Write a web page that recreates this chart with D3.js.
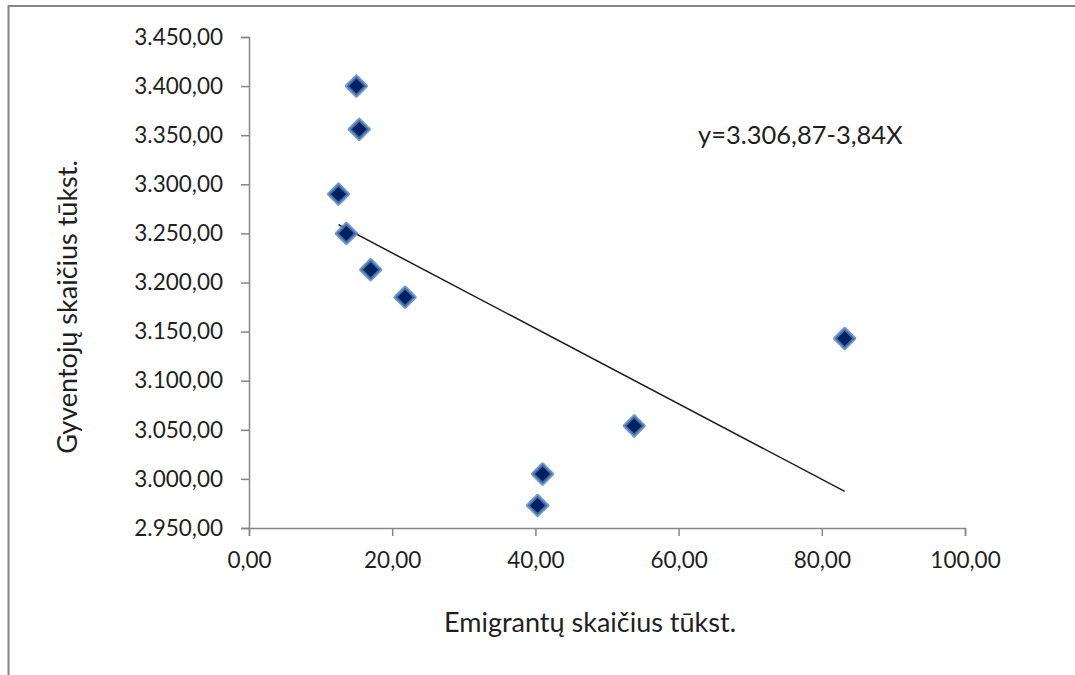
<!DOCTYPE html>
<html>
<head>
<meta charset="utf-8">
<script src="https://cdn.jsdelivr.net/npm/d3@7"></script>
<style>
    html, body { margin: 0; padding: 0; background: #fff; }
    text { font-family: Lato, "Open Sans", sans-serif; fill: #1f1f1f; }
</style>
</head>
<body>
<svg id="drawing_region"></svg>
<script>
// emigrants (thousands) and population (thousands)
const emigrants = [15.0, 15.4, 12.5, 13.6, 17.0, 21.8, 53.8, 41.0, 40.3, 83.2];
const population = [3400, 3356, 3290, 3250, 3213, 3185, 3054, 3005, 2973, 3143];

const xTicks = [0, 20, 40, 60, 80, 100];
const yTicks = [2950, 3000, 3050, 3100, 3150, 3200, 3250, 3300, 3350, 3400, 3450];

// trend line y = a + b*x
const trendA = 3306.87;
const trendB = -3.84;

const xTitle = 'Emigrantų skaičius tūkst.';
const yTitle = 'Gyventojų skaičius  tūkst.';
const equation = 'y=3.306,87-3,84X';

const width = 1075, height = 675;
const margin = {top: 37, right: 110, bottom: 147, left: 249};

const svg = d3.select('#drawing_region')
    .attr('width', width)
    .attr('height', height);

// outer frame (only top and left edges visible)
svg.append('path')
    .attr('d', `M8.5,${height} L8.5,6 L${width},6`)
    .attr('fill', 'none')
    .attr('stroke', '#868686')
    .attr('stroke-width', 2);

const chart = svg.append('g')
    .attr('transform', `translate(${margin.left}, ${margin.top})`);

const innerW = width - margin.left - margin.right;
const innerH = height - margin.top - margin.bottom;

const xscale = d3.scaleLinear().domain([0, 100]).range([0, innerW]);
const yscale = d3.scaleLinear().domain([2950, 3450]).range([innerH, 0]);

const lt = d3.formatLocale({decimal: ',', thousands: '.', grouping: [3], currency: ['', '']});
const fmt = lt.format(',.2f');

const xaxis = d3.axisBottom(xscale).tickValues(xTicks).tickFormat(fmt).tickSizeOuter(0).tickSize(8).tickPadding(16);
const yaxis = d3.axisLeft(yscale).tickValues(yTicks).tickFormat(fmt).tickSizeOuter(0).tickSize(8).tickPadding(18);

const xg = chart.append('g')
    .attr('transform', `translate(0, ${innerH})`)
    .call(xaxis);
const yg = chart.append('g').call(yaxis);

[xg, yg].forEach(g => {
    g.select('.domain').attr('stroke', '#868686').attr('stroke-width', 1.5);
    g.selectAll('.tick line').attr('stroke', '#868686').attr('stroke-width', 1.5);
    g.selectAll('.tick text')
        .attr('fill', '#1f1f1f')
        .style('font-family', 'Lato, "Open Sans", sans-serif')
        .style('font-size', '22.5px');
});

// trend line over the range of the data
const xExt = d3.extent(emigrants);
chart.append('line')
    .attr('x1', xscale(xExt[0]))
    .attr('y1', yscale(trendA + trendB * xExt[0]))
    .attr('x2', xscale(xExt[1]))
    .attr('y2', yscale(trendA + trendB * xExt[1]))
    .attr('stroke', '#1a1a1a')
    .attr('stroke-width', 1.5);

// diamond markers
const pts = emigrants.map((e, i) => ({x: e, y: population[i]}));
const diamond = d3.symbol().type(d3.symbolDiamond2).size(250);
chart.selectAll('path.pt')
    .data(pts)
    .enter()
    .append('path')
    .attr('class', 'pt')
    .attr('d', diamond)
    .attr('transform', d => `translate(${xscale(d.x)}, ${yscale(d.y)})`)
    .attr('fill', '#002060')
    .attr('stroke', '#4f81bd')
    .attr('stroke-opacity', 0.8)
    .attr('stroke-width', 3.5)
    .attr('stroke-linejoin', 'round');

// equation label
svg.append('text')
    .attr('x', 698)
    .attr('y', 144)
    .style('font-size', '25.5px')
    .text(equation);

// axis titles
svg.append('text')
    .attr('x', 590)
    .attr('y', 632)
    .attr('text-anchor', 'middle')
    .style('font-size', '27px')
    .text(xTitle);

svg.append('text')
    .attr('transform', `translate(77, 307) rotate(-90)`)
    .attr('text-anchor', 'middle')
    .style('font-size', '27px')
    .text(yTitle);
</script>
</body>
</html>
